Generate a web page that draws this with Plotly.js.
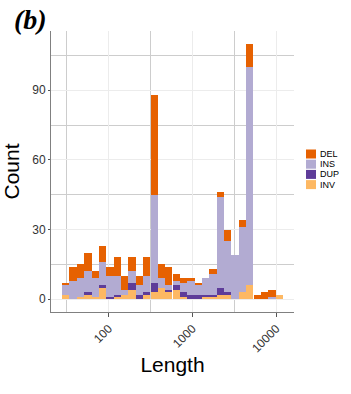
<!DOCTYPE html>
<html>
<head>
<meta charset="utf-8">
<script src="https://cdn.plot.ly/plotly-3.0.1.min.js"></script>
<style>
html,body{margin:0;padding:0;background:#fff;}
#chart{width:351px;height:394px;}
</style>
</head>
<body>
<div id="chart"></div>
<script>
// Bin centres of the 30 histogram bins, as log10(Length)
const binCenterLog10 = [1.488,1.576,1.664,1.752,1.840,1.927,2.015,2.103,2.191,2.279,
  2.367,2.455,2.543,2.630,2.718,2.806,2.894,2.982,3.070,3.158,
  3.246,3.333,3.421,3.509,3.597,3.685,3.773,3.861,3.949,4.037];

// Counts per bin for each SV type (stacked, bottom to top: INV, DUP, INS, DEL)
const countINV = [2,0,1,2,1,5,0,1,2,4, 0,2,3,5,3,4,1,0,0,1, 1,2,2,0,3,6,0,0,0,2];
const countDUP = [0,0,0,1,0,1,1,1,0,3, 2,1,4,0,1,2,2,2,2,1, 1,3,1,0,0,0,0,0,0,0];
const countINS = [4,8,8,9,8,10,9,8,2,5, 4,7,38,4,2,2,4,6,4,7, 9,39,22,19,28,94,0,0,1,0];
const countDEL = [1,6,6,8,3,7,4,8,6,6, 4,8,43,6,8,3,2,1,1,0, 2,2,5,0,3,10,2,3,3,0];

const types = ["DEL","INS","DUP","INV"];           // legend order
const typeColors = {DEL:"#e66101", INS:"#b2abd2", DUP:"#5e3c99", INV:"#fdb863"};
const typeCounts = {DEL:countDEL, INS:countINS, DUP:countDUP, INV:countINV};

const xTickVals = [2,3,4];
const xTickText = ["100","1000","10000"];
const xMinorVals = [1.5,2.5,3.5];
const yTickVals = [0,30,60,90];
const yMinorVals = [15,45,75,105];

const stackOrder = ["INV","DUP","INS","DEL"];
const traces = stackOrder.map(t => ({
  type: "bar",
  name: t,
  x: binCenterLog10,
  y: typeCounts[t],
  marker: {color: typeColors[t], line: {width: 0}},
  showlegend: false,
  hoverinfo: "skip"
}));

// manual compact legend (ggplot-like)
const plotTopPx = 31, plotH = 281, plotL = 51, plotW = 243;
const legTop = 154, legStep = 10.2, keyH = 9;
const shapes = [], annotations = [];
types.forEach((t, i) => {
  const cy = legTop + i * legStep;
  const py = v => (plotTopPx + plotH - v) / plotH;
  const px = v => (v - plotL) / plotW;
  shapes.push({type:"rect", xref:"paper", yref:"paper",
    x0: px(306), x1: px(316), y0: py(cy + keyH/2), y1: py(cy - keyH/2),
    fillcolor: typeColors[t], line:{width:0}});
  annotations.push({xref:"paper", yref:"paper", x: px(317.5), y: py(cy),
    xanchor:"left", yanchor:"middle", text: t, showarrow:false,
    font:{family:"Liberation Sans, Arial, sans-serif", size:9, color:"#000"}});
});

const layout = {
  width: 351, height: 394,
  margin: {l: plotL, r: 351 - plotL - plotW, t: plotTopPx, b: 394 - plotTopPx - plotH, pad: 0},
  paper_bgcolor: "#ffffff", plot_bgcolor: "#ffffff",
  barmode: "stack", bargap: 0,
  font: {family: "Liberation Sans, Arial, sans-serif", color: "#333"},
  title: {text: "<b><i>(b)</i></b>", x: 14/351, xref: "container", xanchor: "left",
          y: 1 - 19/394, yref: "container", yanchor: "middle",
          font: {family: "Liberation Serif, Times New Roman, serif", size: 28, color: "#000"}},
  xaxis: {
    range: [1.312, 4.212], showline: true, linecolor: "#808080", linewidth: 1,
    zeroline: false, tickmode: "array", tickvals: xTickVals, ticktext: xTickText,
    tickangle: -45, ticks: "outside", ticklen: 4, tickcolor: "#555", tickwidth: 1,
    tickfont: {size: 12, color: "#333"},
    showgrid: true, gridcolor: "#ececec", gridwidth: 1,
    minor: {tickmode: "array", tickvals: xMinorVals, showgrid: true, gridcolor: "#cdcdcd", gridwidth: 1, ticks: ""},
    title: {text: "Length", font: {size: 21, color: "#000"}, standoff: 2},
    automargin: false
  },
  yaxis: {
    range: [-5.5, 115.5], showline: true, linecolor: "#808080", linewidth: 1,
    zeroline: false, tickmode: "array", tickvals: yTickVals,
    ticks: "outside", ticklen: 2, tickcolor: "#555", tickwidth: 1,
    tickfont: {size: 12, color: "#333"},
    showgrid: true, gridcolor: "#ececec", gridwidth: 1,
    minor: {tickmode: "array", tickvals: yMinorVals, showgrid: true, gridcolor: "#cdcdcd", gridwidth: 1, ticks: ""},
    title: {text: "Count", font: {size: 21, color: "#000"}, standoff: 8},
    automargin: false
  },
  shapes: shapes,
  annotations: annotations
};

Plotly.newPlot("chart", traces, layout, {displayModeBar: false, staticPlot: true});
</script>
</body>
</html>
